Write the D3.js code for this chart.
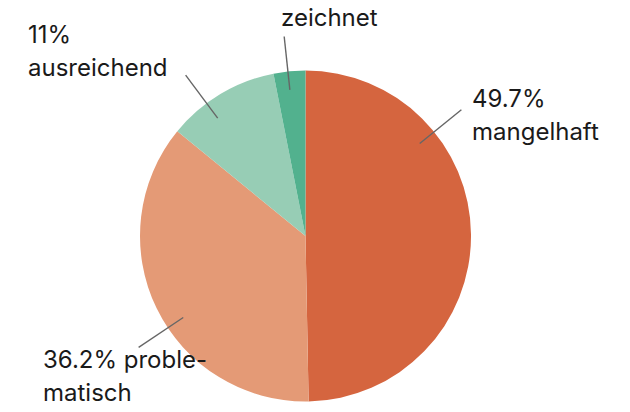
<!DOCTYPE html>
<html>
<head>
<meta charset="utf-8">
<script src="https://cdn.jsdelivr.net/npm/d3@7"></script>
<style>
  html, body { margin: 0; padding: 0; background: #ffffff; }
  svg { display: block; }
</style>
</head>
<body>
<svg id="chart" width="630" height="412"></svg>
<script>
// ---- data ----
const categories = ["mangelhaft", "problematisch", "ausreichend", "ausgezeichnet"];
const values = [49.7, 36.2, 11, 3.1];
const colors = ["#d5653f", "#e49a76", "#97cdb5", "#52b18e"];
// visible label lines (the first line of the last label lies above the frame in the reference)
const labelLines = [
  ["49.7%", "mangelhaft"],
  ["36.2% proble-", "matisch"],
  ["11%", "ausreichend"],
  ["zeichnet"]
];

// ---- layout (annotation placement) ----
const width = 630, height = 412;
const cx = 305.5, cy = 236, radius = 165.5;
const leaderAngles = [51, 236.3, -36.7, -6.1];   // degrees, clockwise from top
const labelPos = [[472, 107], [43, 368], [28, 43], [281, 26]];
const lineHeight = 33;

const svg = d3.select("#chart");
const g = svg.append("g").attr("transform", `translate(${cx},${cy})`);

const pie = d3.pie().sort(null).value(d => d)(values);
const arc = d3.arc().innerRadius(0).outerRadius(radius);

g.selectAll("path.slice")
  .data(pie)
  .join("path")
  .attr("class", "slice")
  .attr("d", arc)
  .attr("fill", (d, i) => colors[i]);

// leader lines
const rInner = radius * 0.888, rOuter = radius * 1.212;
const toRad = a => a * Math.PI / 180;
g.selectAll("line.leader")
  .data(leaderAngles)
  .join("line")
  .attr("class", "leader")
  .attr("x1", a => rInner * Math.sin(toRad(a)))
  .attr("y1", a => -rInner * Math.cos(toRad(a)))
  .attr("x2", a => rOuter * Math.sin(toRad(a)))
  .attr("y2", a => -rOuter * Math.cos(toRad(a)))
  .attr("stroke", "#666666")
  .attr("stroke-width", 1.4);

// labels
const labels = svg.selectAll("text.lbl")
  .data(categories)
  .join("text")
  .attr("class", "lbl")
  .attr("x", (d, i) => labelPos[i][0])
  .attr("y", (d, i) => labelPos[i][1])
  .attr("font-family", "Inter, 'Noto Sans', sans-serif")
  .attr("font-size", 24)
  .attr("fill", "#1a1a1a");

labels.each(function(d, i) {
  const t = d3.select(this);
  labelLines[i].forEach((s, j) => {
    t.append("tspan")
      .attr("x", labelPos[i][0])
      .attr("dy", j === 0 ? 0 : lineHeight)
      .text(s);
  });
});
</script>
</body>
</html>
